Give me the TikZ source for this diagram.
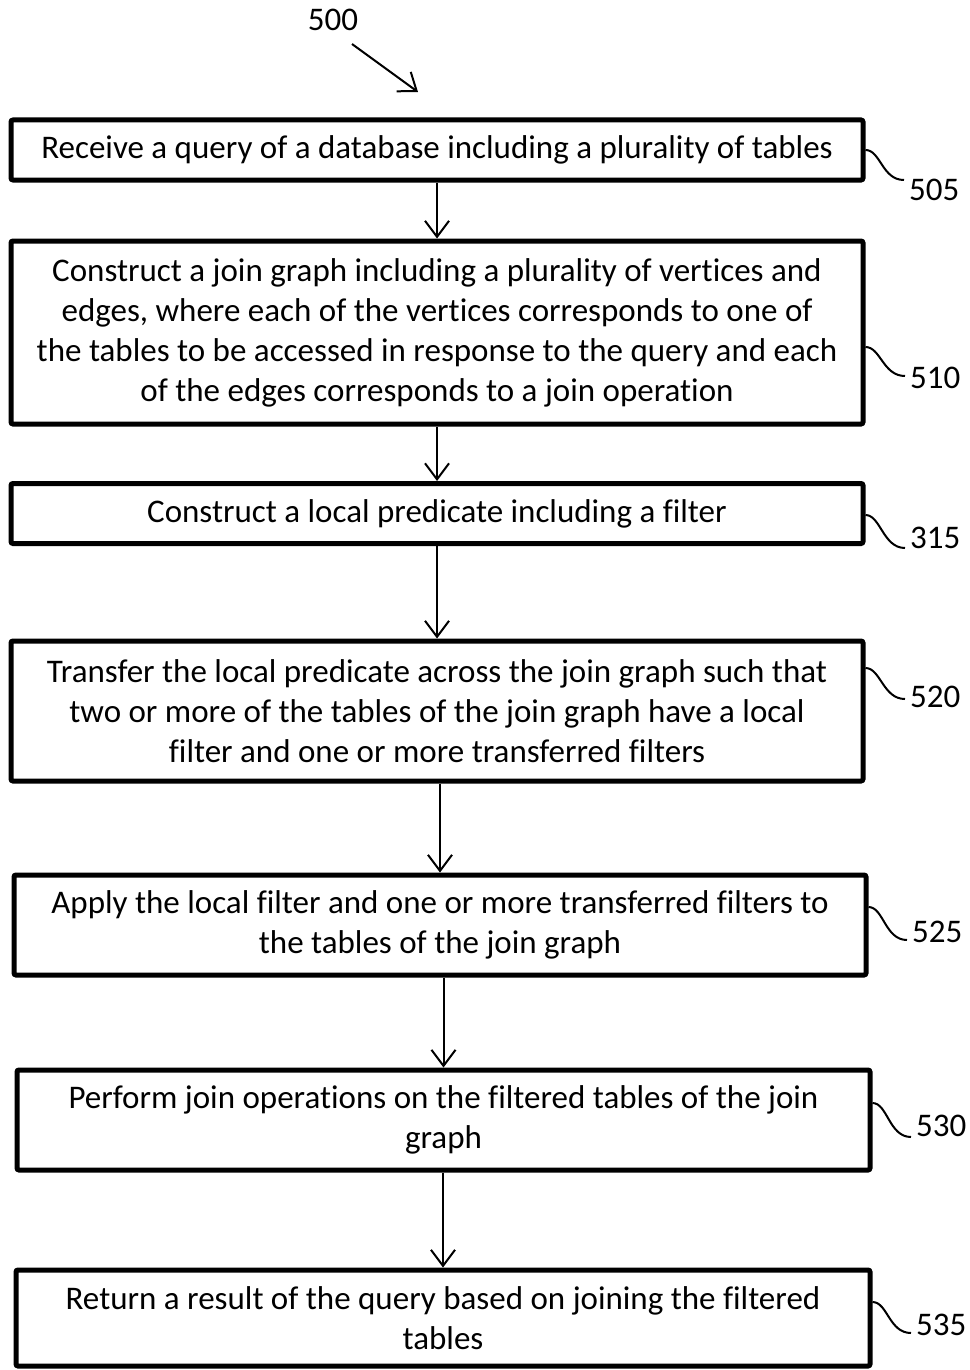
\documentclass[tikz,border=0pt]{standalone}
\usepackage{fontspec}
\setmainfont{Carlito}[Ligatures=NoCommon]
\usetikzlibrary{arrows.meta,calc}

\tikzset{
  stepbox/.style={draw, line width=5pt, rounded corners=2pt, inner sep=0pt,
    align=center, font=\fontsize{33}{40}\selectfont},
  flow/.style={line width=2pt, -{Straight Barb[length=16pt,width=24pt,line width=2pt]}},
  hookline/.style={line width=2pt},
  reflabel/.style={font=\fontsize{33}{38}\selectfont, inner sep=0pt, anchor=west},
}

\begin{document}
\begin{tikzpicture}[x=1pt,y=-1pt]
\useasboundingbox (0,0) rectangle (969,1370);

% figure number and its pointer
\node[font=\fontsize{33}{38}\selectfont, inner sep=0pt] (n500) at (333,20) {500};
\coordinate (s500) at (352,44);
\coordinate (t500) at (418,92);
\draw[flow] (s500) -- (t500);

% process steps
\node[stepbox, minimum width=852pt, minimum height=60pt] (b505) at (437,150)
  {Receive a query of a database including a plurality of tables};
\node[stepbox, minimum width=852pt, minimum height=183pt] (b510) at (437,332.5)
  {Construct a join graph including a plurality of vertices and\\
   edges, where each of the vertices corresponds to one of\\
   the tables to be accessed in response to the query and each\\
   of the edges corresponds to a join operation};
\node[stepbox, minimum width=852pt, minimum height=60pt] (b315) at (437,513.5)
  {Construct a local predicate including a filter};
\node[stepbox, minimum width=852pt, minimum height=140pt] (b520) at (437,711)
  {Transfer the local predicate across the join graph such that\\
   two or more of the tables of the join graph have a local\\
   filter and one or more transferred filters};
\node[stepbox, minimum width=852pt, minimum height=100pt] (b525) at (440,925)
  {Apply the local filter and one or more transferred filters to\\
   the tables of the join graph};
\node[stepbox, minimum width=853pt, minimum height=100pt] (b530) at (443.5,1120)
  {Perform join operations on the filtered tables of the join\\
   graph};
\node[stepbox, minimum width=854pt, minimum height=96pt] (b535) at (443,1318)
  {Return a result of the query based on joining the filtered\\
   tables};

% flow arrows, each dropping straight onto the next box
\draw[flow] (b510.north |- b505.south) -- (b510.north);
\draw[flow] (b315.north |- b510.south) -- (b315.north);
\draw[flow] (b520.north |- b315.south) -- (b520.north);
\draw[flow] (b525.north |- b520.south) -- (b525.north);
\draw[flow] (b530.north |- b525.south) -- (b530.north);
\draw[flow] (b535.north |- b530.south) -- (b535.north);

% reference numerals
\node[reflabel] (l505) at (909,190) {505};
\node[reflabel] (l510) at (910,378) {510};
\node[reflabel] (l315) at (910,538) {315};
\node[reflabel] (l520) at (910,697) {520};
\node[reflabel] (l525) at (912,932) {525};
\node[reflabel] (l530) at (916,1126) {530};
\node[reflabel] (l535) at (916,1325) {535};

% leader hooks from the boxes to their numerals
\draw[hookline] (b505.east |- 0,150) .. controls +(15,0) and +(-22,0) .. ($(l505.west)+(-5,-10)$);
\draw[hookline] (b510.east |- 0,347) .. controls +(15,0) and +(-22,0) .. ($(l510.west)+(-5,-2)$);
\draw[hookline] (b315.east |- 0,515) .. controls +(15,0) and +(-22,0) .. ($(l315.west)+(-5,10)$);
\draw[hookline] (b520.east |- 0,668) .. controls +(15,0) and +(-22,0) .. ($(l520.west)+(-5,2)$);
\draw[hookline] (b525.east |- 0,907) .. controls +(15,0) and +(-22,0) .. ($(l525.west)+(-5,8)$);
\draw[hookline] (b530.east |- 0,1103) .. controls +(15,0) and +(-22,0) .. ($(l530.west)+(-5,11)$);
\draw[hookline] (b535.east |- 0,1302) .. controls +(15,0) and +(-22,0) .. ($(l535.west)+(-5,8)$);
\end{tikzpicture}
\end{document}
